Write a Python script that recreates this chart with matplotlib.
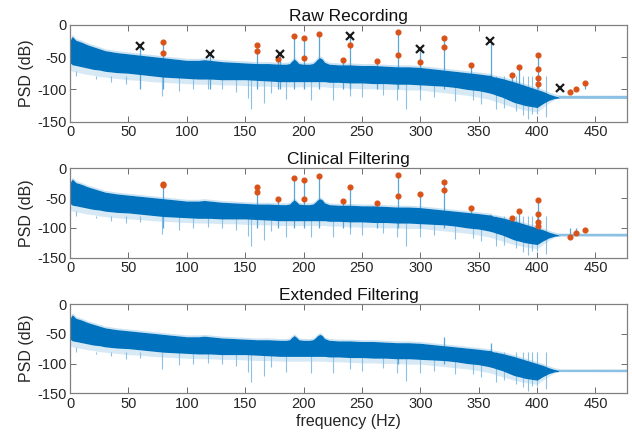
import matplotlib
matplotlib.use("Agg")
import matplotlib.pyplot as plt

plt.rcParams["font.family"] = ["Liberation Sans", "DejaVu Sans"]
plt.rcParams["axes.unicode_minus"] = False

# common PSD envelope (Hz, dB)
freq_env = [0, 2, 5, 10, 15, 20, 25, 30, 40, 50, 60, 70, 80, 90, 100, 110, 115, 120,
            130, 140, 150, 160, 170, 180, 185, 188, 190, 192, 194, 196, 200, 205, 208,
            210, 212, 214, 216, 218, 222, 230, 240, 250, 260, 270, 280, 290, 300, 310,
            320, 330, 340, 350, 358, 360, 362, 365, 370, 380, 390, 400, 405, 410, 415,
            420, 477]
upper_env = [-24, -18, -24, -27, -31, -34, -37, -40, -43, -45, -47, -49, -51, -53, -55,
             -55, -54, -55, -57, -58, -59, -60, -60, -61, -61, -60, -56, -53, -56, -60,
             -61, -61, -60, -57, -53, -51, -53, -58, -61, -62, -62, -63, -63, -64, -65,
             -65, -66, -68, -70, -72, -74, -76, -78, -78, -80, -81, -83, -88, -94, -100,
             -103, -107, -110, -112, -112]
lower_env = [-59, -62, -63, -65, -67, -69, -70, -72, -74, -75, -77, -79, -81, -82, -83,
             -84, -84, -84, -85, -85, -85, -86, -87, -88, -88, -88, -88, -88, -88, -88,
             -88, -88, -88, -88, -88, -88, -88, -88, -89, -89, -90, -90, -91, -91, -92,
             -92, -93, -94, -95, -97, -100, -102, -105, -106, -107, -109, -112, -120, -125,
             -128, -122, -117, -114, -113, -113]
deep_env = [-70, -72, -73, -75, -77, -78, -80, -81, -83, -85, -86, -88, -89, -90, -91,
            -92, -92, -92, -93, -93, -94, -95, -95, -96, -96, -96, -96, -96, -96, -96,
            -96, -96, -96, -96, -96, -96, -96, -96, -97, -97, -98, -99, -99, -100, -100,
            -101, -101, -103, -105, -107, -109, -112, -115, -116, -117, -119, -122, -128,
            -132, -135, -128, -121, -116, -113, -114]

# isolated dips below the band (Hz, dB)
dip_freq = [5, 12, 22, 35, 48, 60, 79, 93, 105, 118, 130, 142, 152, 155, 166, 172, 185,
            206, 225, 240, 250, 268, 280, 288, 300, 312, 330, 345, 352, 365, 372, 382,
            388, 392, 396, 400, 408]
dip_db = [-72, -80, -84, -88, -92, -90, -110, -103, -100, -99, -100, -104, -114, -131,
          -121, -106, -115, -116, -116, -110, -112, -108, -116, -130, -116, -112, -118,
          -117, -122, -131, -128, -134, -140, -146, -138, -138, -143]

# line peaks per panel (Hz, dB top)
raw_peak_freq = [60, 80, 120, 160, 178, 180, 192, 200, 213.5, 233.5, 240, 263, 280.5,
                 300, 320.5, 343, 360.5, 378.5, 384.5, 401, 420.5, 428.5, 433.5, 441]
raw_peak_db = [-33, -27, -45, -32, -52, -45, -18, -21, -14, -55, -17, -57, -11, -37, -21,
               -63, -25, -77, -66, -46, -98, -104, -99, -89]
clin_peak_freq = [80, 160, 178, 192, 200, 213.5, 233.5, 240, 263, 280.5, 300, 320.5, 343,
                  360.5, 378.5, 384.5, 401, 428.5, 433.5, 441]
clin_peak_db = [-26, -31, -51, -17, -19, -12, -55, -32, -58, -11, -43, -23, -67, -78, -83,
                -72, -54, -114, -109, -103]
ext_peak_freq = [280.5, 320.5, 360.5]
ext_peak_db = [-66, -55, -65]

# detected components (orange) and 60 Hz harmonics (black x)
raw_dot_freq = [80, 80, 160, 160, 178, 192, 200, 200, 213.5, 233.5, 240, 263, 280.5,
                280.5, 300, 320.5, 320.5, 343, 378.5, 384.5, 401, 401, 401, 401, 428.5,
                433.5, 441]
raw_dot_db = [-27, -43, -32, -41, -52.6, -18, -21, -51.6, -13.8, -54.7, -32, -56.7, -10.7,
              -47, -57, -21, -34.3, -62.8, -77, -66, -46.5, -69, -82, -91, -103.7, -98.6,
              -89.4]
raw_x_freq = [60, 120, 180, 240, 300, 360, 420]
raw_x_db = [-33, -45.5, -45.5, -17, -37.3, -25.1, -98]
clin_dot_freq = [80, 80, 160, 160, 178, 192, 200, 200, 213.5, 233.5, 240, 263, 280.5,
                 280.5, 300, 320.5, 320.5, 343, 378.5, 384.5, 401, 401, 401, 401, 428.5,
                 433.5, 441]
clin_dot_db = [-25.8, -28.5, -30.9, -40.3, -51.5, -16.8, -19, -51.5, -12.4, -54.9, -31.9,
               -57.7, -10.7, -46, -42.6, -23, -36.4, -66.6, -82.8, -71.6, -53.7, -76,
               -89.6, -96.3, -114.5, -109, -103.5]

titles = ["Raw Recording", "Clinical Filtering", "Extended Filtering"]
BLUE = "#0072BD"
LIGHT = "#8cc0e4"
ORANGE = "#D95319"

fig = plt.figure(figsize=(6.32, 4.42), dpi=100)
rects = [[0.1108, 0.7245, 0.8813, 0.2195],
         [0.1108, 0.4170, 0.8813, 0.2023],
         [0.1108, 0.1102, 0.8813, 0.2020]]

panels = [
    (raw_peak_freq, raw_peak_db, raw_dot_freq, raw_dot_db, raw_x_freq, raw_x_db),
    (clin_peak_freq, clin_peak_db, clin_dot_freq, clin_dot_db, [], []),
    (ext_peak_freq, ext_peak_db, [], [], [], []),
]

for i, (rect, title, p) in enumerate(zip(rects, titles, panels)):
    ax = fig.add_axes(rect)
    pk_f, pk_db, dot_f, dot_db, x_f, x_db = p

    # light fringe and sparse dips
    ax.fill_between(freq_env, deep_env, lower_env, color=LIGHT, alpha=0.35, lw=0, zorder=1)
    ax.fill_between(freq_env, upper_env, [u + 3 for u in upper_env], color=LIGHT,
                    alpha=0.45, lw=0, zorder=1)
    ax.vlines(dip_freq, [-80] * len(dip_freq), dip_db, color=LIGHT, lw=0.8, zorder=1)
    ax.vlines(pk_f, [-100] * len(pk_f), pk_db, color="#5aa5da", lw=0.9, zorder=1)
    # dense band
    ax.fill_between(freq_env, lower_env, upper_env, color=BLUE, lw=0, zorder=2)
    ax.plot([420, 477], [-112, -112], color=LIGHT, lw=1.6, zorder=2)

    if dot_f:
        ax.plot(dot_f, dot_db, "o", color=ORANGE, ms=3.4, mec=ORANGE, zorder=4)
    if x_f:
        ax.plot(x_f, x_db, "x", color="#1a1a1a", ms=5.5, mew=1.6, zorder=5)

    ax.set_xlim(0, 477)
    ax.set_ylim(-150, 0)
    ax.set_xticks(range(0, 451, 50))
    ax.set_yticks([-150, -100, -50, 0])
    ax.tick_params(direction="in", top=True, right=True, length=4, width=0.6,
                   color="#555555", labelsize=10.5, labelcolor="#262626", pad=2.5)
    for s in ax.spines.values():
        s.set_color("#808080")
        s.set_linewidth(0.9)
    ax.set_title(title, fontsize=12.5, color="#111111", pad=3)
    ax.set_ylabel("PSD (dB)", fontsize=11.5, color="#262626", labelpad=2)
    if i == 2:
        ax.set_xlabel("frequency (Hz)", fontsize=11.5, color="#262626", labelpad=2)

fig.savefig("out.png", dpi=100)
